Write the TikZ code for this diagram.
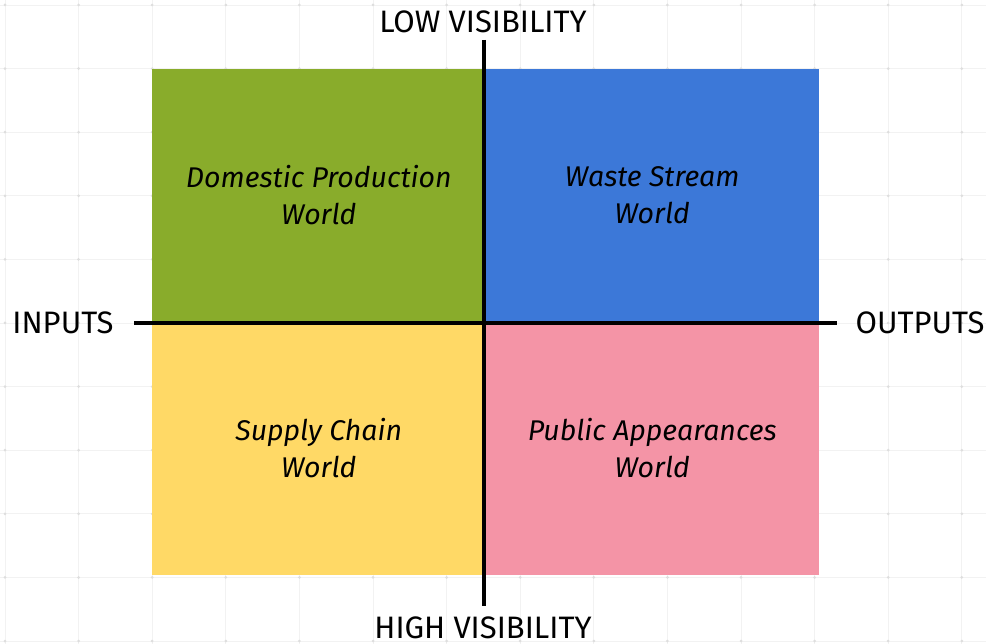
\documentclass[tikz,border=0pt]{standalone}
\usepackage{fontspec}
\setmainfont{Fira Sans}
\usetikzlibrary{positioning}

\definecolor{prodgreen}{RGB}{137,172,43}
\definecolor{wasteblue}{RGB}{60,120,216}
\definecolor{supplyyellow}{RGB}{255,217,102}
\definecolor{publicpink}{RGB}{244,148,166}

\begin{document}
\begin{tikzpicture}[x=1pt, y=-1pt, node distance=0pt]
				\tikzstyle{world} = [inner sep=0pt, outer sep=0pt, minimum width=333.5pt, minimum height=253pt, align=center, font=\fontsize{28.5}{37}\selectfont\itshape];
				\tikzstyle{axislabel} = [inner sep=0pt, font=\fontsize{31}{34}\selectfont];
				\tikzstyle{axis} = [line width=4pt];
				\tikzstyle{gridline} = [draw=black!5, line width=0.8pt];
				\useasboundingbox (0,0) rectangle (986,644);
				
				% background grid
				\foreach \i in {0,...,13} \draw[gridline] (5+73.6*\i,0) -- (5+73.6*\i,644);
				\foreach \j in {0,...,10} \draw[gridline] (0,5+63.6*\j) -- (986,5+63.6*\j);
				\foreach \i in {0,...,13}
					\foreach \j in {0,...,10}
						\fill[black!13] (5+73.6*\i,5+63.6*\j) circle (1.5pt);
				
				\node[world, fill=prodgreen, anchor=north west] (A) at (152,69) {Domestic Production\\World};
				\node[world, fill=wasteblue] (B) [right=of A] {Waste Stream\\World};
				\node[world, fill=supplyyellow] (C) [below=of A] {Supply Chain\\World};
				\node[world, fill=publicpink] (D) [right=of C] {Public Appearances\\World};
				
				\node[axislabel] (low) at (483,22) {LOW VISIBILITY};
				\node[axislabel] (high) at (483,628) {HIGH VISIBILITY};
				\node[axislabel] (in) at (63,323) {INPUTS};
				\node[axislabel] (out) at (920,323) {OUTPUTS};
				
				\coordinate (top) at (484,40);
				\coordinate (bottom) at (484,606);
				\coordinate (left) at (134,323);
				\coordinate (right) at (837,323);
				
				\draw[axis] (left) -- (right);
				\draw[axis] (top) -- (bottom);
			\end{tikzpicture}
\end{document}
